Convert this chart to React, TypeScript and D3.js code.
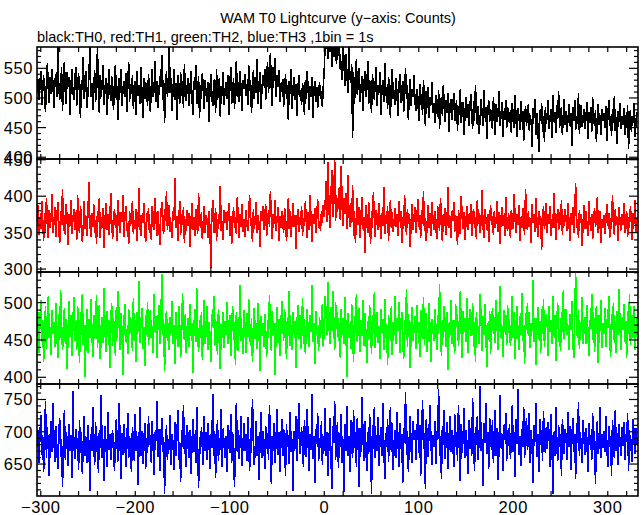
import React from "react";
import * as d3 from "d3";

const T_START = -304;
const X_TICK_LABELS = [-300, -200, -100, 0, 100, 200, 300];
const TITLE = "WAM T0 Lightcurve (y\u2212axis: Counts)";
const SUBTITLE = "black:TH0, red:TH1, green:TH2, blue:TH3 ,1bin = 1s";

const TH0 = [
508,532,497,521,545,489,512,538,503,476,527,559,514,492,535,506,548,519,483,530,
541,502,586,524,497,513,552,478,529,561,507,490,544,518,536,471,523,549,511,496,
528,553,487,519,542,505,466,531,514,569,498,522,545,483,510,537,592,501,526,480,
515,547,493,521,585,509,474,538,502,527,556,488,516,533,471,504,548,520,495,537,
512,479,531,556,497,520,463,534,508,549,486,515,528,501,542,476,519,560,494,523,
507,538,482,516,529,471,545,503,521,490,552,511,467,534,498,526,513,487,541,505,
476,522,548,501,517,563,494,528,483,510,537,519,572,496,531,458,514,545,502,524,
588,509,533,478,516,549,497,525,462,538,511,490,543,504,529,483,557,512,495,521,
534,487,519,546,501,472,528,513,555,490,508,537,466,521,499,542,515,481,530,506,
493,527,459,514,540,502,486,531,518,475,549,497,509,533,468,520,503,544,488,512,
526,498,538,471,515,552,490,507,534,481,519,563,502,527,493,545,510,478,531,516,
540,503,524,489,556,512,531,474,519,547,498,535,508,566,490,522,544,481,513,538,
521,549,497,533,561,508,542,575,515,487,553,529,568,502,538,519,547,493,526,510,
532,485,514,540,499,521,463,528,506,548,481,517,535,496,523,470,509,539,502,514,
488,525,507,472,531,498,545,513,479,520,502,536,467,511,529,494,518,483,507,526,
499,512,485,521,548,597,583,612,566,591,578,604,552,587,569,620,574,558,593,571,
589,547,562,531,598,553,520,574,541,508,596,537,526,558,432,544,490,531,566,505,
528,551,494,519,537,478,523,546,502,515,562,489,531,507,474,540,518,497,529,553,
486,521,508,543,472,515,530,494,559,503,519,481,536,512,467,525,548,499,513,488,
534,505,470,519,541,492,513,528,476,507,550,498,521,463,509,532,487,515,502,539,
494,478,515,501,462,523,488,507,471,530,496,452,512,483,519,466,501,489,527,475,
492,458,505,481,468,513,447,489,502,470,521,483,459,496,475,508,442,487,498,463,
484,509,461,478,497,445,486,471,515,458,480,493,437,476,502,466,489,452,481,507,
473,448,494,462,521,479,455,487,440,468,499,474,453,513,466,484,431,477,496,459,
482,465,447,501,471,438,489,460,476,511,452,469,493,435,478,463,497,449,485,470,
458,479,441,492,467,450,505,462,434,483,470,446,495,459,478,427,468,487,452,474,
490,445,471,458,418,483,466,499,437,474,455,408,479,461,492,443,470,426,484,457,
472,496,448,467,481,432,505,459,476,441,488,464,511,450,469,485,437,473,498,455,
478,443,466,490,452,475,419,484,461,497,446,470,456,508,439,473,488,451,465,482,
447,469,493,431,476,458,485,442,501,464,453,479,425,468,490,455,472,438,482,461,
474,449,487,428,465,496,452,470,436,481,458,503,444,467,422,478,460,491,447,469,
455,483,437,472,449,488,414,466,479,443,470,457,492,434,463,476,
];

const TH1 = [
362,388,347,371,355,394,368,339,377,351,398,363,342,381,357,372,403,349,366,385,
344,370,392,358,336,379,361,410,352,374,347,389,365,333,376,359,395,348,369,382,
353,378,340,401,364,349,386,371,337,360,393,355,373,346,381,420,362,344,377,358,
389,350,367,335,380,365,398,343,372,356,384,329,368,391,353,375,347,362,405,370,
341,366,383,357,374,338,395,361,349,378,365,402,344,371,387,352,363,334,379,359,
376,393,348,367,355,382,339,370,411,358,346,374,363,390,351,337,377,365,384,349,
362,340,386,372,353,397,368,345,379,357,333,375,392,360,348,383,366,407,354,371,
388,351,364,342,379,368,425,356,373,339,362,394,347,376,360,385,336,369,352,381,
359,377,331,366,390,354,372,345,383,363,348,404,370,357,378,341,365,387,350,374,
367,343,380,356,301,372,395,349,361,384,338,369,355,377,414,352,366,340,381,363,
378,354,369,391,346,373,335,362,385,357,371,348,399,364,343,376,358,389,351,368,
344,381,365,352,377,402,359,370,337,383,355,368,392,349,374,361,330,379,366,387,
353,372,389,345,364,381,358,407,370,341,376,362,395,352,368,385,339,373,356,380,
367,350,384,373,338,361,398,355,379,344,369,391,358,374,327,366,383,351,372,360,
387,346,370,359,393,365,342,378,354,401,368,337,375,362,384,349,371,396,357,366,
352,379,363,388,371,392,421,364,447,383,356,396,436,372,389,452,366,401,378,395,
412,368,441,383,359,398,376,404,355,429,382,358,391,363,415,346,379,336,374,398,
361,385,342,376,399,355,371,322,388,364,350,392,367,335,379,357,406,369,344,381,
372,353,390,366,341,377,359,412,348,374,362,386,339,369,395,356,378,351,367,384,
358,376,345,393,364,380,336,371,355,402,368,347,383,362,375,330,366,389,353,371,
385,349,367,396,358,374,343,381,362,407,352,370,338,365,388,356,377,345,392,368,
354,379,362,341,386,370,352,398,365,338,375,359,384,347,369,413,356,373,343,380,
366,392,351,374,359,333,381,364,348,400,371,355,378,340,367,386,353,375,362,389,
345,370,383,356,372,341,395,362,377,350,366,408,358,343,382,369,354,376,337,365,
388,361,373,347,380,356,369,394,351,378,335,367,385,359,374,346,399,363,352,377,
364,342,381,370,355,403,367,349,376,360,388,339,372,357,384,365,347,410,368,353,
379,358,370,336,389,363,375,351,397,366,344,380,361,373,326,368,386,355,371,391,
350,376,362,387,345,369,357,404,372,340,365,383,353,378,361,395,347,374,359,382,
367,352,390,363,338,377,360,385,349,372,418,356,368,343,381,364,375,332,366,388,
355,379,361,346,393,370,352,376,341,365,384,358,371,399,349,363,380,336,369,357,
374,348,366,389,359,377,342,370,355,401,363,347,382,360,372,338,385,364,353,376,
361,390,349,368,379,344,372,357,386,365,340,377,362,395,351,369,
];

const TH2 = [
455,488,432,470,503,447,476,421,462,495,438,481,509,452,467,430,490,458,474,441,
499,463,426,485,450,517,472,436,460,493,445,478,411,466,502,454,483,429,471,507,
448,475,437,496,462,419,487,456,512,443,470,401,465,491,433,478,452,505,468,427,
484,451,473,510,439,466,497,425,458,481,446,520,463,434,489,455,476,412,471,500,
442,479,461,428,494,453,515,470,437,486,459,403,474,498,447,465,431,492,457,480,
464,435,506,449,477,420,488,461,529,446,472,493,438,467,415,484,456,501,443,476,
490,452,469,433,511,460,482,426,475,497,444,463,538,457,478,408,466,489,449,473,
436,481,459,502,445,470,418,487,462,440,495,471,427,456,513,467,450,485,432,468,
479,441,498,455,472,406,464,491,447,519,458,434,476,452,488,423,469,504,445,462,
496,437,474,458,421,485,467,509,442,478,455,430,492,464,411,471,453,487,439,475,
457,501,444,469,483,428,462,496,450,474,416,488,459,435,477,524,448,466,431,490,
470,433,486,454,505,461,442,479,420,467,493,451,473,438,499,463,409,482,456,472,
441,485,460,427,476,452,510,468,435,489,457,472,403,465,494,446,478,429,461,502,
474,449,491,463,424,481,455,516,442,470,436,487,458,475,412,466,497,451,483,438,
463,506,445,478,431,469,492,455,440,484,461,523,447,472,418,489,457,466,435,481,
452,476,498,441,467,509,483,456,527,470,445,494,462,515,478,436,501,465,488,449,
473,426,491,457,480,444,507,462,400,486,453,471,438,498,464,421,482,459,512,447,
468,493,434,477,455,503,442,486,461,419,475,450,497,466,431,484,458,514,439,472,
487,446,469,425,492,460,478,437,505,453,471,416,483,464,449,496,430,474,457,509,
445,479,462,501,433,468,488,451,424,476,457,518,440,485,463,412,471,494,448,466,
482,438,497,459,474,427,490,464,451,508,443,470,486,434,461,499,455,420,478,463,
449,491,470,437,484,458,525,466,429,477,452,495,463,441,488,410,472,456,503,444,
476,454,433,498,467,485,442,471,515,458,426,489,461,479,447,506,432,468,492,455,
463,500,440,474,421,487,459,469,445,511,477,435,482,456,498,464,414,473,450,489,
431,470,493,458,481,446,504,465,437,476,522,452,468,427,490,461,483,443,497,459,
478,442,466,509,453,488,424,471,495,460,436,482,457,513,448,469,418,486,463,500,
455,487,439,473,462,530,447,479,416,466,494,451,475,433,491,458,505,440,470,484,
468,429,496,461,477,444,509,455,483,422,472,499,447,464,435,488,460,517,451,476,
492,457,470,436,485,463,502,448,426,479,541,466,453,490,438,474,461,508,444,469,
481,445,497,459,428,476,465,512,450,487,434,471,495,456,419,483,462,504,439,473,
458,493,441,478,466,509,452,427,485,463,500,446,474,432,489,457,518,468,436,480,
464,498,447,475,426,489,458,511,443,470,484,452,496,437,467,479,
];

const TH3 = [
676,702,651,689,726,664,695,638,683,748,659,707,672,631,694,716,668,744,685,653,
709,677,642,698,721,661,688,615,679,733,656,700,684,647,712,670,695,628,763,681,
658,705,674,690,641,718,667,699,634,686,724,663,692,652,711,678,609,697,671,739,
684,649,715,668,693,636,702,675,757,660,688,624,709,681,646,730,672,696,657,687,
703,666,640,691,719,673,654,745,680,627,698,664,712,687,645,676,729,659,693,670,
637,708,682,655,727,671,694,618,685,739,662,701,650,678,713,643,690,667,724,680,
695,652,717,674,633,699,686,748,661,705,639,682,722,668,692,604,677,710,656,688,
672,726,648,697,681,641,715,663,690,734,657,684,622,703,676,742,665,695,645,711,
687,660,703,635,679,720,668,696,651,739,674,613,692,666,707,683,648,725,670,699,
656,714,688,642,697,675,758,663,701,629,685,718,654,690,672,736,646,705,679,660,
693,638,711,681,667,728,652,699,676,614,686,745,669,702,658,690,724,647,680,713,
671,697,655,723,684,639,706,667,751,690,648,677,716,662,694,626,685,730,659,701,
688,643,709,674,698,657,742,682,619,693,670,714,651,687,735,664,699,637,679,720,
662,704,684,632,712,676,695,650,731,668,689,608,701,673,725,655,692,744,666,683,
707,669,646,718,687,661,736,679,640,697,672,759,658,693,621,705,681,729,654,690,
675,716,649,694,671,737,663,700,631,686,722,668,611,709,683,747,657,691,715,644,
698,677,728,652,689,606,712,671,740,663,694,637,718,680,659,733,675,700,646,721,
684,615,706,669,754,692,655,717,678,639,699,666,727,687,603,710,673,738,660,695,
671,723,647,690,707,662,744,681,627,698,676,719,653,696,738,668,713,641,685,702,
659,730,688,645,714,674,697,621,706,682,761,664,701,638,692,724,670,652,716,687,
703,656,693,735,667,711,631,686,749,673,698,612,720,684,661,707,742,679,648,695,
676,717,650,701,688,766,662,694,627,709,680,733,658,691,715,642,686,724,669,702,
690,645,728,677,699,655,741,684,623,712,667,695,737,660,703,681,634,718,673,706,
663,752,691,639,708,679,725,657,697,771,670,688,616,714,683,745,665,700,643,721,
694,672,718,651,689,734,662,706,625,683,757,675,697,640,711,687,729,654,702,678,
712,658,686,741,669,699,630,720,681,766,664,693,647,705,676,739,660,691,722,672,
687,729,652,703,675,620,710,684,744,661,696,637,719,679,702,655,732,688,667,707,
673,715,694,646,727,681,603,699,663,738,686,654,711,677,696,632,720,689,665,704,
692,657,731,676,709,641,688,722,669,697,627,714,683,746,662,700,674,651,718,685,
664,706,687,638,713,679,695,656,729,672,701,619,690,717,666,684,738,659,697,675,
701,668,724,683,645,709,677,693,632,718,686,660,734,671,698,649,712,681,663,707,
678,715,657,696,684,729,640,702,671,688,653,719,692,666,705,680,
];

const Y_TICKS_0 = [400, 450, 500, 550];
const Y_TICKS_1 = [300, 350, 400, 450];
const Y_TICKS_2 = [400, 450, 500];
const Y_TICKS_3 = [650, 700, 750];

const W = 643;
const H = 515;
const LEFT = 37;
const RIGHT = 638;
const TOPS = [47, 159, 272, 384, 496];
const FONT = "'Liberation Sans', Arial, Helvetica, sans-serif";

const panels = [
  { data: TH0, color: "#000000", domain: [397, 586], labels: Y_TICKS_0 },
  { data: TH1, color: "#ff0000", domain: [296, 451], labels: Y_TICKS_1 },
  { data: TH2, color: "#00ff00", domain: [391, 541], labels: Y_TICKS_2 },
  { data: TH3, color: "#0000ff", domain: [600.5, 774], labels: Y_TICKS_3 },
];

export default function App() {
  const x = d3.scaleLinear().domain([-304, 332]).range([LEFT, RIGHT]);
  const xMinor = d3.range(-300, 332, 20);
  const fmt = (v: number) => (v < 0 ? "\u2212" + Math.abs(v) : String(v));

  return (
    <svg width={W} height={H} style={{ position: "absolute", left: 0, top: 0, background: "#fff" }}>
      <rect x={0} y={0} width={W} height={H} fill="#fff" />
      <defs>
        {panels.map((p, k) => (
          <clipPath id={`clip${k}`} key={k}>
            <rect x={LEFT} y={TOPS[k]} width={RIGHT - LEFT} height={TOPS[k + 1] - TOPS[k]} />
          </clipPath>
        ))}
      </defs>
      <text x={338} y={23} textAnchor="middle" fontFamily={FONT} fontSize={14.5}>{TITLE}</text>
      <text x={37} y={42} fontFamily={FONT} fontSize={14.5}>{SUBTITLE}</text>
      {panels.map((p, k) => {
        const top = TOPS[k];
        const bot = TOPS[k + 1];
        const y = d3.scaleLinear().domain(p.domain).range([bot, top]);
        const line = d3
          .line<number>()
          .x((_, i) => x(T_START + i))
          .y((d) => y(d));
        const yMin = Math.ceil(p.domain[0] / 10) * 10;
        const yTicks = d3.range(yMin, p.domain[1], 10);
        return (
          <g key={k}>
            <path d={line(p.data) || ""} fill="none" stroke={p.color} strokeWidth={1.6} strokeLinejoin="miter" strokeMiterlimit={2} shapeRendering="crispEdges" clipPath={`url(#clip${k})`} />
            {yTicks.map((v) => {
              const len = v % 50 === 0 ? 9 : 4;
              return (
                <g key={v} stroke="#000" strokeWidth={1.2}>
                  <line x1={LEFT} x2={LEFT + len} y1={y(v)} y2={y(v)} />
                  <line x1={RIGHT} x2={RIGHT - len} y1={y(v)} y2={y(v)} />
                </g>
              );
            })}
            {xMinor.map((v) => (
              <g key={v} stroke="#000" strokeWidth={1.2}>
                <line x1={x(v)} x2={x(v)} y1={top} y2={top + 5} />
                <line x1={x(v)} x2={x(v)} y1={bot} y2={bot - 5} />
              </g>
            ))}
            <rect x={LEFT} y={top} width={RIGHT - LEFT} height={bot - top} fill="none" stroke="#000" strokeWidth={1.6} />
            {p.labels.map((v) => (
              <text key={v} x={33} y={y(v)} dy="0.36em" textAnchor="end" fontFamily={FONT} fontSize={16.5} letterSpacing={0.6}>
                {v}
              </text>
            ))}
          </g>
        );
      })}
      {X_TICK_LABELS.map((v) => (
        <text key={v} x={x(v)} y={513} textAnchor="middle" fontFamily={FONT} fontSize={16.5} letterSpacing={0.6}>
          {fmt(v)}
        </text>
      ))}
    </svg>
  );
}
